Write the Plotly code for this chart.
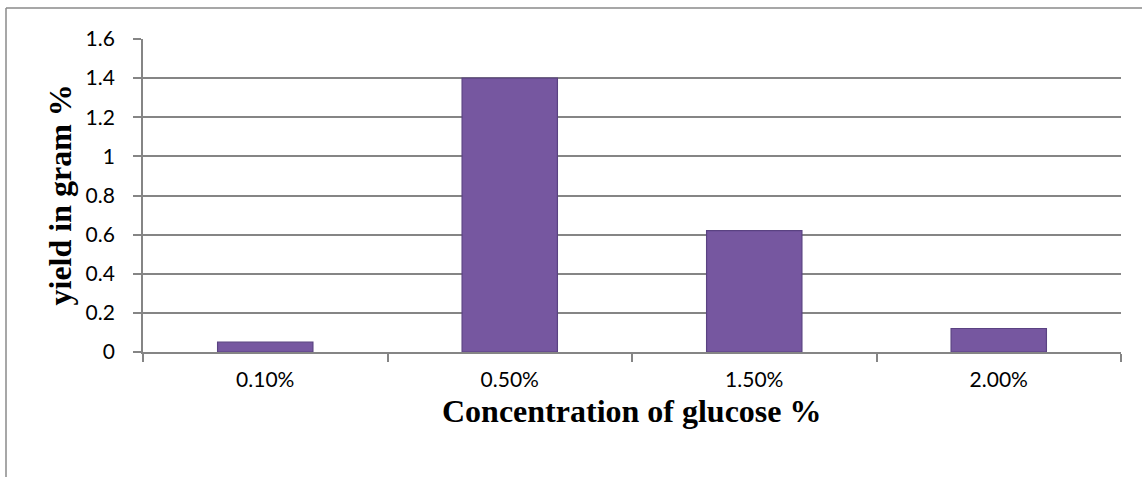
import plotly.graph_objects as go

categories = ["0.10%", "0.50%", "1.50%", "2.00%"]
yields = [0.05, 1.40, 0.62, 0.12]
y_ticks = [0, 0.2, 0.4, 0.6, 0.8, 1.0, 1.2, 1.4, 1.6]
y_tick_text = ["0", "0.2", "0.4", "0.6", "0.8", "1", "1.2", "1.4", "1.6"]

GRID = "#858585"
tick_font = dict(family="Lato, Open Sans, sans-serif", size=21, color="#000000")
title_font = dict(family="Liberation Serif, Times New Roman, serif", size=32, color="#000000")

fig = go.Figure()
fig.add_trace(go.Bar(
    x=categories,
    y=yields,
    width=0.39,
    marker=dict(color="#7657a0", line=dict(color="#5a4282", width=1.2)),
    showlegend=False,
))

fig.update_layout(
    width=1142, height=477,
    margin=dict(l=143, r=21, t=39, b=125),
    paper_bgcolor="white", plot_bgcolor="white",
    xaxis=dict(
        type="category",
        tickson="boundaries",
        ticks="outside", ticklen=8, tickcolor=GRID, tickwidth=1.7,
        showline=True, linecolor=GRID, linewidth=1.7,
        showgrid=False, tickfont=tick_font,
        ticklabelstandoff=8,
    ),
    yaxis=dict(
        range=[0, 1.6],
        tickvals=y_ticks, ticktext=y_tick_text,
        ticks="outside", ticklen=8, tickcolor=GRID, tickwidth=1.7,
        showline=True, linecolor=GRID, linewidth=1.7,
        showgrid=True, gridcolor=GRID, gridwidth=1.7,
        zeroline=False, tickfont=tick_font,
        ticklabelstandoff=14,
    ),
    annotations=[
        dict(text="<b>Concentration of glucose %</b>", xref="paper", yref="paper",
             x=0.5, y=(352 - 411) / 313, xanchor="center", yanchor="middle",
             showarrow=False, font=title_font),
        dict(text="<b>yield in gram %</b>", xref="paper", yref="paper",
             x=(59 - 143) / 978, y=0.5, xanchor="center", yanchor="middle",
             textangle=-90, showarrow=False, font=title_font),
    ],
    shapes=[
        dict(type="line", xref="paper", yref="paper",
             x0=(6 - 143) / 978, x1=1.1, y0=(352 - 8) / 313, y1=(352 - 8) / 313,
             line=dict(color="#8a8a8a", width=1.5)),
        dict(type="line", xref="paper", yref="paper",
             x0=(6 - 143) / 978, x1=(6 - 143) / 978, y0=(352 - 8) / 313, y1=-0.5,
             line=dict(color="#8a8a8a", width=1.5)),
    ],
)

fig.write_html("out.html", config={"displayModeBar": False},
               post_script="document.body.style.margin='0';")
